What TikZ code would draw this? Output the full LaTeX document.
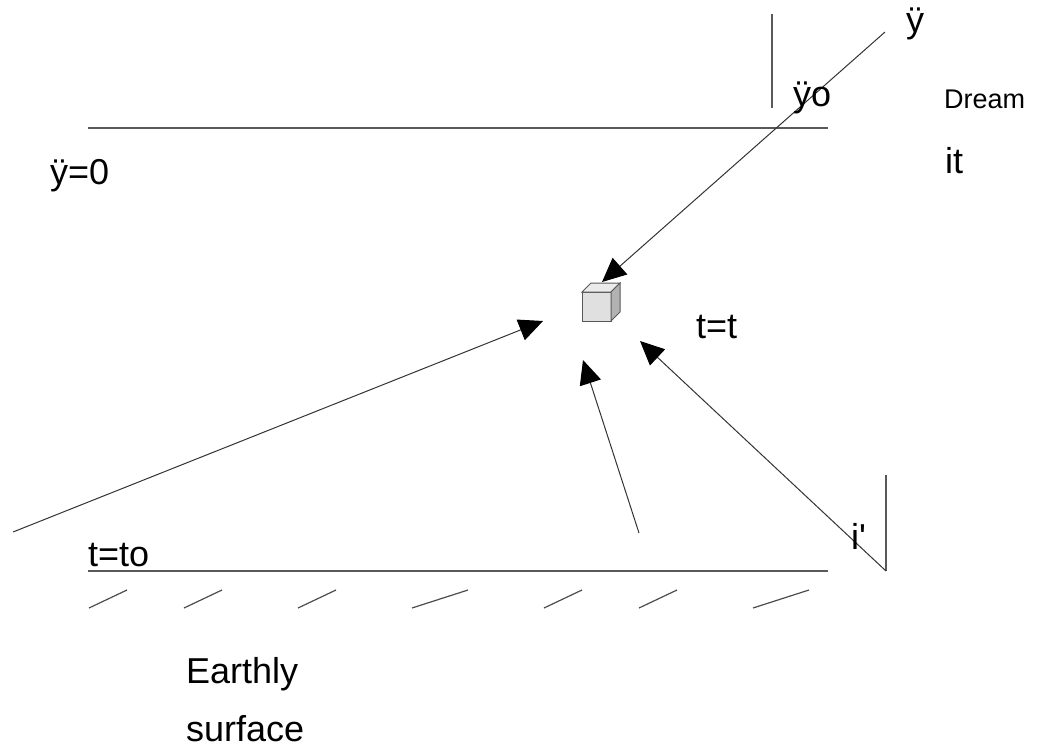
\documentclass[tikz,border=0pt]{standalone}
\usepackage{fontspec}
\setmainfont{Liberation Sans}
\usetikzlibrary{arrows.meta}
\begin{document}
\begin{tikzpicture}[x=1pt,y=-1pt,
  lbl/.style={anchor=base west,inner sep=0pt,font=\fontsize{36}{42}\selectfont},
  small/.style={anchor=base west,inner sep=0pt,font=\fontsize{27}{32}\selectfont},
  ln/.style={draw=black!65,line width=1.3pt},
  arr/.style={draw=black!80,line width=1pt,-{Triangle[length=24pt,width=22pt,fill=black,color=black]}},
  hatch/.style={draw=black!70,line width=1.2pt}]
\useasboundingbox (0,0) rectangle (1039,750);
% coordinates
\coordinate (vtop) at (772,14);
\coordinate (vbot) at (772,108);
\coordinate (h1l) at (88,128);
\coordinate (h1r) at (828,128);
\coordinate (h2l) at (88,571);
\coordinate (h2r) at (828,571);
\coordinate (v2t) at (886,475);
\coordinate (v2b) at (886,571);
\coordinate (s1) at (885,32);
\coordinate (t1) at (602,282);
\coordinate (s2) at (13,532);
\coordinate (t2) at (543,321);
\coordinate (s3) at (639,533);
\coordinate (t3) at (583,360);
\coordinate (t4) at (640,341);
% lines
\draw[ln] (vtop) -- (vbot);
\draw[ln] (h1l) -- (h1r);
\draw[ln] (h2l) -- (h2r);
\draw[ln] (v2t) -- (v2b);
% arrows
\draw[arr] (s1) -- (t1);
\draw[arr] (s2) -- (t2);
\draw[arr] (s3) -- (t3);
\draw[arr] (v2b) -- (t4);
% cube
\filldraw[fill=black!12,draw=black!65,line width=1pt] (582,292) rectangle (611,321);
\filldraw[fill=black!8,draw=black!65,line width=1pt] (582,292) -- (591,283) -- (620,283) -- (611,292) -- cycle;
\filldraw[fill=black!30,draw=black!65,line width=1pt] (611,292) -- (620,283) -- (620,312) -- (611,321) -- cycle;
% hatches
\foreach \a/\b/\c in {89/127/a,184/222/b,298/336/c,412/468/d,544/582/e,639/677/f,753/809/g}
  \draw[hatch] (\a,608) coordinate (h\c1) -- (\b,590) coordinate (h\c2);
% texts
\node[lbl] (yy) at (906,32) {ÿ};
\node[lbl] (yo) at (793,106) {ÿo};
\node[small] (dream) at (944,108) {Dream};
\node[lbl] (it) at (945,173) {it};
\node[lbl] (y0) at (50,184) {ÿ=0};
\node[lbl] (tt) at (696,338) {t=t};
\node[lbl] (ip) at (851,549) {i\textquotesingle};
\node[lbl] (tto) at (88,566) {t=to};
\node[lbl] (earth) at (186,683) {Earthly};
\node[lbl] (surf) at (186,741) {surface};
\end{tikzpicture}
\end{document}
